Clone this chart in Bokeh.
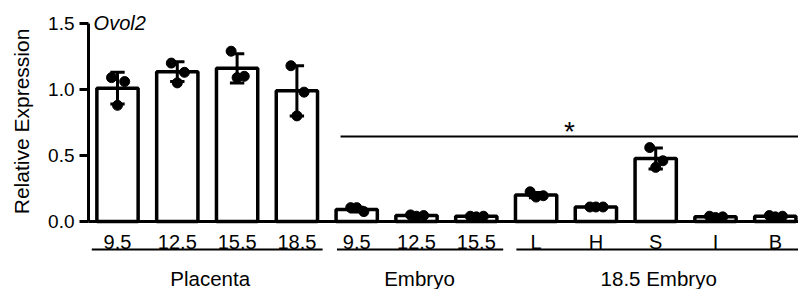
import math
from bokeh.plotting import figure
from bokeh.models import Range1d, LinearAxis, FixedTicker, ColumnDataSource, PrintfTickFormatter
from bokeh.core.properties import value
from bokeh.embed import file_html
from bokeh.resources import INLINE

# ---- data ----
tick_labels = ["9.5", "12.5", "15.5", "18.5", "9.5", "12.5", "15.5", "L", "H", "S", "I", "B"]
bar_means = [1.01, 1.135, 1.16, 0.99, 0.09, 0.045, 0.04, 0.20, 0.11, 0.477, 0.035, 0.04]
bar_sd = [0.12, 0.075, 0.11, 0.19, 0.018, 0.006, 0.005, 0.02, 0.005, 0.08, 0.005, 0.005]
rep1 = [1.09, 1.20, 1.29, 1.18, 0.105, 0.05, 0.04, 0.225, 0.11, 0.56, 0.04, 0.045]
rep2 = [1.06, 1.13, 1.10, 0.98, 0.075, 0.045, 0.04, 0.195, 0.11, 0.46, 0.035, 0.04]
rep3 = [0.88, 1.05, 1.09, 0.80, 0.105, 0.04, 0.035, 0.185, 0.11, 0.41, 0.03, 0.035]
groups = ["Placenta", "Embryo", "18.5 Embryo"]
group_first = [0, 4, 7]
group_last = [3, 6, 11]
sig_from = 4
sig_text = "*"
gene = "Ovol2"
y_label = "Relative Expression"
y_ticks = [0.0, 0.5, 1.0, 1.5]

FONT = "Liberation Sans"
n = len(tick_labels)
idx = list(range(n))
AXIS_X = -0.485   # where the value axis sits (left edge of the plotting area)

p = figure(width=798, height=289, output_backend="svg", toolbar_location=None,
           x_range=Range1d(-1.9565, 11.388), y_range=Range1d(-0.5152, 1.6742),
           x_axis_type=None, y_axis_type=None,
           min_border_left=0, min_border_right=0, min_border_top=0, min_border_bottom=0)
p.outline_line_color = None
p.background_fill_color = "white"
p.border_fill_color = "white"

yaxis = LinearAxis(bounds=(0, 1.5), ticker=FixedTicker(ticks=y_ticks), fixed_location=AXIS_X,
                   formatter=PrintfTickFormatter(format="%.1f"))
yaxis.axis_line_width = 3
yaxis.axis_line_color = "black"
yaxis.major_tick_line_width = 3
yaxis.major_tick_line_color = "black"
yaxis.major_tick_out = 9
yaxis.major_tick_in = 0
yaxis.minor_tick_line_color = None
yaxis.major_label_text_font = FONT
yaxis.major_label_text_font_size = "19px"
yaxis.major_label_text_color = "black"
yaxis.major_label_standoff = 5
p.add_layout(yaxis, "left")

# x axis baseline
p.segment(x0=[AXIS_X], y0=[0], x1=[p.x_range.end], y1=[0], line_color="black", line_width=3)

src = ColumnDataSource(dict(x=idx, top=bar_means,
                            lo=[m - s for m, s in zip(bar_means, bar_sd)],
                            hi=[m + s for m, s in zip(bar_means, bar_sd)],
                            cl=[i - 0.12 for i in idx], cr=[i + 0.12 for i in idx],
                            lab=tick_labels))
p.vbar(x="x", top="top", bottom=0, width=0.69, source=src,
       fill_color="white", line_color="black", line_width=3.5)
p.segment(x0="x", y0="lo", x1="x", y1="hi", source=src, line_color="black", line_width=3)
p.segment(x0="cl", y0="hi", x1="cr", y1="hi", source=src, line_color="black", line_width=3)
p.segment(x0="cl", y0="lo", x1="cr", y1="lo", source=src, line_color="black", line_width=3)

offsets = [-0.1, 0.12, 0.0]
dx, dy = [], []
for k, reps in enumerate([rep1, rep2, rep3]):
    for i in idx:
        dx.append(i + offsets[k])
        dy.append(reps[i])
p.scatter(dx, dy, size=10, fill_color="black", line_color="black")

# tick labels
p.text(x="x", y=-0.152, text="lab", source=src, text_align="center", text_baseline="alphabetic",
       text_font=value(FONT), text_font_size="20px", text_color="black")

# group lines and labels
pads_l = [0.43, 0.33, 0.33]
pads_r = [0.43, 0.45, 1.0]
gx0 = [f - pl for f, pl in zip(group_first, pads_l)]
gx1 = [l + pr for l, pr in zip(group_last, pads_r)]
p.segment(x0=gx0, y0=-0.212, x1=gx1, y1=-0.212, line_color="black", line_width=2)
gc = [(f + l) / 2 + 0.05 for f, l in zip(group_first, group_last)]
p.text(x=gc, y=-0.43, text=groups, text_align="center", text_baseline="alphabetic",
       text_font=value(FONT), text_font_size="20.5px", text_color="black")

# significance line
sx0 = sig_from - 0.27
sx1 = p.x_range.end
p.segment(x0=[sx0], y0=[0.644], x1=[sx1], y1=[0.644], line_color="black", line_width=2)
p.text(x=[(sx0 + sx1) / 2], y=[0.68], text=[sig_text], text_align="center", text_baseline="alphabetic",
       text_font=value(FONT), text_font_size="28px", text_color="black")

# gene name
p.text(x=[-0.40], y=[1.5], text=[gene], text_align="left", text_baseline="alphabetic",
       text_font=value(FONT), text_font_style="italic", text_font_size="20px", text_color="black")

# y axis title
p.text(x=[-1.605], y=[0.758], text=[y_label], angle=math.pi / 2, text_align="center",
       text_baseline="middle", text_font=value(FONT), text_font_size="21px", text_color="black")

open("out.html", "w").write(file_html(p, INLINE))
